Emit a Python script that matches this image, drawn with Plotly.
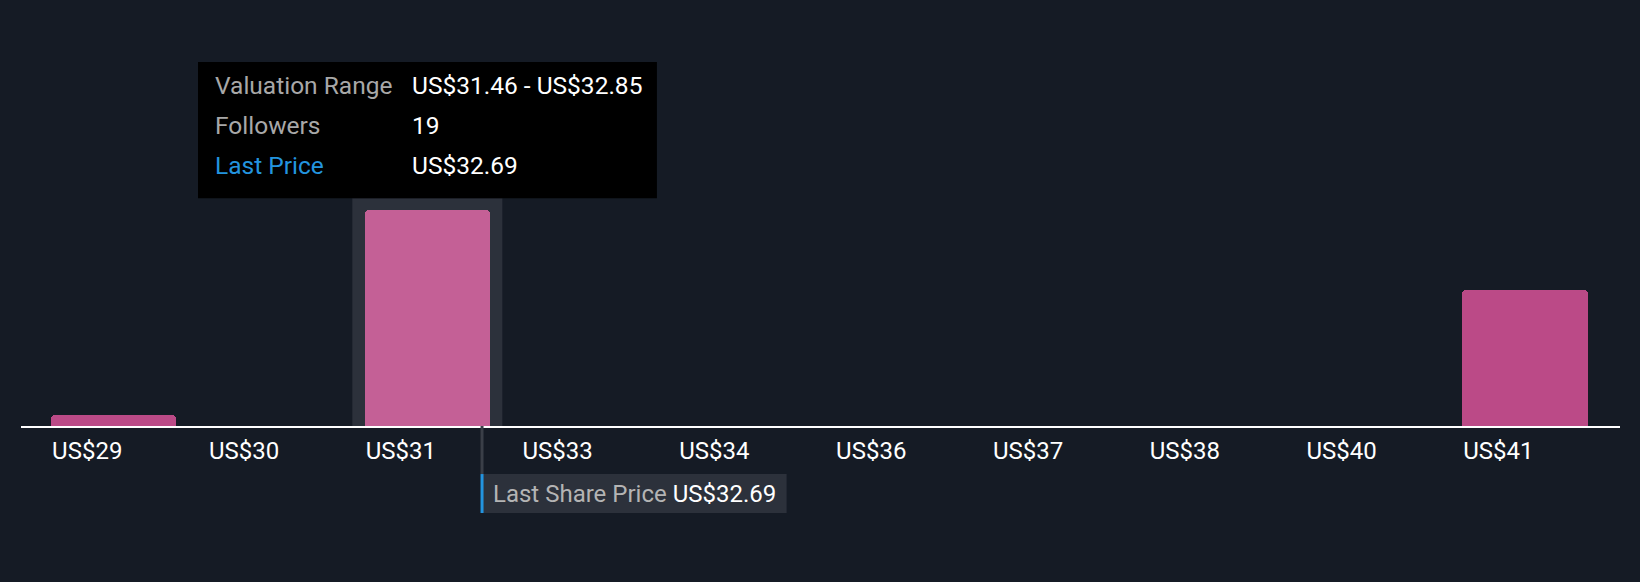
import plotly.graph_objects as go

# valuation bins (lower edge, US$) and number of followers in each
bin_lo = [28.68, 30.07, 31.46, 32.85, 34.24, 35.63, 37.02, 38.41, 39.80, 41.19]
bin_width = 1.39
followers = [1, 0, 19, 0, 0, 0, 0, 0, 0, 12]
tick_labels = ["US$29", "US$30", "US$31", "US$33", "US$34",
               "US$36", "US$37", "US$38", "US$40", "US$41"]
last_price = 32.69
hover_index = 2

BG = "#151b25"
PANEL = "#2c313b"
PINK = "#bb4a87"
PINK_HI = "#c46096"
BLUE = "#2394df"
FONT = "Roboto"

bar_offset = 0.19
bar_width = 1.11

colors = [PINK_HI if i == hover_index else PINK for i in range(len(bin_lo))]
bar_left = [b + bar_offset for b in bin_lo]

fig = go.Figure()
fig.add_trace(go.Bar(
    x=bin_lo,
    y=followers,
    offset=bar_offset,
    width=bar_width,
    marker=dict(color=colors, cornerradius=4, line=dict(width=0)),
    hoverinfo="skip",
))

# highlighted column behind the hovered bar
band_top = 0.626
fig.add_shape(type="rect", xref="x", yref="paper", layer="below",
              x0=bar_left[hover_index] - 0.11,
              x1=bar_left[hover_index] + bar_width + 0.11,
              y0=0, y1=band_top, fillcolor=PANEL, line=dict(width=0))

# tooltip box
fig.add_shape(type="rect", xref="paper", yref="paper",
              x0=0.1107, x1=0.3977, y0=band_top, y1=1.0,
              fillcolor="#000000", line=dict(width=0))
lo = bin_lo[hover_index]
rows = [
    ("Valuation Range", f"US${lo:.2f} - US${lo + bin_width:.2f}", "#a8a8a8"),
    ("Followers", str(followers[hover_index]), "#a8a8a8"),
    ("Last Price", f"US${last_price:.2f}", BLUE),
]
row_y = [0.936, 0.826, 0.717]
for (label, value, lcol), yy in zip(rows, row_y):
    fig.add_annotation(xref="paper", yref="paper", x=0.1202, y=yy,
                       text=label, showarrow=False, xanchor="left", yanchor="middle",
                       font=dict(family=FONT, size=24.5, color=lcol))
    fig.add_annotation(xref="paper", yref="paper", x=0.2433, y=yy,
                       text=value, showarrow=False, xanchor="left", yanchor="middle",
                       font=dict(family=FONT, size=24.5, color="#ffffff"))

# last share price marker below the axis
box_top, box_bot = -0.132, -0.239
fig.add_shape(type="line", xref="x", yref="paper",
              x0=last_price, x1=last_price, y0=0, y1=box_top,
              line=dict(color="#3a3f48", width=3))
fig.add_shape(type="rect", xref="x", yref="paper",
              x0=last_price, x1=last_price + 2.7, y0=box_bot, y1=box_top,
              fillcolor=PANEL, line=dict(width=0))
fig.add_shape(type="line", xref="x", yref="paper",
              x0=last_price, x1=last_price, y0=box_bot, y1=box_top,
              line=dict(color=BLUE, width=3))
fig.add_annotation(xref="x", yref="paper", x=last_price, y=(box_top + box_bot) / 2,
                   xshift=9, xanchor="left", yanchor="middle", showarrow=False,
                   text=f"<span style='color:#b4b4b4'>Last Share Price</span> US${last_price:.2f}",
                   font=dict(family=FONT, size=24, color="#ffffff"))

fig.update_layout(
    width=1640,
    height=582,
    margin=dict(l=21, r=20, t=62, b=156),
    paper_bgcolor=BG,
    plot_bgcolor=BG,
    showlegend=False,
    bargap=0,
    font=dict(family=FONT, size=24, color="#ffffff"),
    xaxis=dict(
        range=[28.603, 42.778],
        tickmode="array",
        tickvals=bar_left,
        ticktext=tick_labels,
        ticklabelposition="outside right",
        ticklabelstandoff=2,
        ticks="",
        showgrid=False,
        zeroline=False,
        showline=True,
        linecolor="#ffffff",
        linewidth=2,
        tickfont=dict(family=FONT, size=24, color="#ffffff"),
        fixedrange=True,
    ),
    yaxis=dict(range=[0, 32], visible=False, fixedrange=True),
)

fig.write_html("out.html", config=dict(displayModeBar=False),
               post_script=f"document.body.style.margin='0';"
                           f"document.body.style.backgroundColor='{BG}';")
